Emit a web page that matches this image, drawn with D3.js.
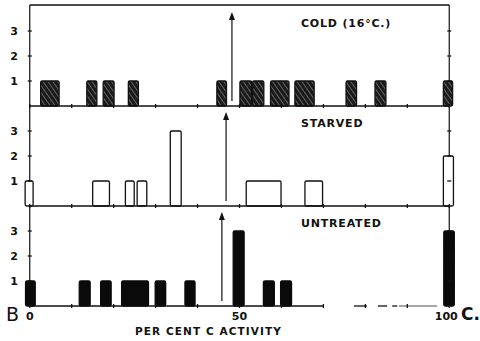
<!DOCTYPE html>
<html>
<head>
<meta charset="utf-8">
<script src="https://cdn.jsdelivr.net/npm/d3@7"></script>
<style>
  body { margin: 0; background: #fff; }
  svg { display: block; }
  text { font-family: "DejaVu Sans", sans-serif; fill: #111; }
</style>
</head>
<body>
<div id="chart"></div>
<script>
// per cent C activity, bars (start, end, number of cells)
var panels = ["COLD (16°C.)", "STARVED", "UNTREATED"];

var coldStart = [2.6, 13.6, 17.5, 23.5, 44.6, 50.1, 53.1, 57.4, 63.2, 75.4, 82.3, 98.6];
var coldEnd   = [7.0, 16.0, 20.1, 25.9, 46.9, 52.9, 55.8, 61.8, 67.8, 77.9, 84.9, 100.8];
var coldCount = [1, 1, 1, 1, 1, 1, 1, 1, 1, 1, 1, 1];

var starvedStart = [-1.1, 15.0, 22.8, 25.6, 33.5, 51.6, 65.6, 98.6];
var starvedEnd   = [0.8, 19.0, 24.9, 27.9, 36.1, 59.9, 69.8, 101.0];
var starvedCount = [1, 1, 1, 1, 3, 1, 1, 2];

var untreatedStart = [-1.0, 11.8, 16.9, 21.9, 29.9, 37.0, 48.5, 55.7, 59.8, 98.7];
var untreatedEnd   = [1.3, 14.4, 19.4, 28.3, 32.4, 39.4, 51.1, 58.3, 62.4, 101.2];
var untreatedCount = [1, 1, 1, 1, 1, 1, 3, 1, 1, 3];

// arrows (means) for each panel
var means = [48.2, 46.8, 45.8];

var yTicks = [1, 2, 3];
var xTicks = [0, 10, 20, 30, 40, 50, 60, 70, 80, 90, 100];
var xLabels = [0, 50, 100];

var width = 480, height = 341;

var svg = d3.select("#chart").append("svg")
    .attr("width", width)
    .attr("height", height);

// hatching for the cold bars
var defs = svg.append("defs");
var pat = defs.append("pattern")
    .attr("id", "hatch")
    .attr("patternUnits", "userSpaceOnUse")
    .attr("width", 4).attr("height", 4)
    .attr("patternTransform", "rotate(-35)");
pat.append("rect").attr("width", 4).attr("height", 4).attr("fill", "#1a1a1a");
pat.append("line").attr("x1", 0.5).attr("y1", 0).attr("x2", 0.5).attr("y2", 4)
    .attr("stroke", "#777").attr("stroke-width", 0.8);

var x = d3.scaleLinear().domain([0, 100]).range([29.75, 449.25]);

var baselines = [106, 206, 306];
var topY = 5;

function yScale(i) {
    return d3.scaleLinear().domain([0, 3]).range([baselines[i], baselines[i] - 75]);
}

var series = [
    { start: coldStart, end: coldEnd, n: coldCount, fill: "url(#hatch)", stroke: "#111" },
    { start: starvedStart, end: starvedEnd, n: starvedCount, fill: "#fff", stroke: "#111" },
    { start: untreatedStart, end: untreatedEnd, n: untreatedCount, fill: "#0a0a0a", stroke: "#0a0a0a" }
];

// frame: top line and the two sides
svg.append("line")
    .attr("x1", x(0)).attr("x2", x(100))
    .attr("y1", topY).attr("y2", topY)
    .attr("stroke", "#111").attr("stroke-width", 1.3);
[0, 100].forEach(function(v) {
    svg.append("line")
        .attr("x1", x(v)).attr("x2", x(v))
        .attr("y1", topY).attr("y2", baselines[2])
        .attr("stroke", "#111").attr("stroke-width", 1.2);
});

series.forEach(function(s, i) {
    var y = yScale(i);
    var g = svg.append("g");

    var bars = s.start.map(function(d, j) { return { x0: d, x1: s.end[j], n: s.n[j] }; });

    g.selectAll("rect.bar")
        .data(bars)
        .enter().append("rect")
        .attr("class", "bar")
        .attr("x", function(d) { return x(d.x0); })
        .attr("width", function(d) { return x(d.x1) - x(d.x0); })
        .attr("y", function(d) { return y(d.n); })
        .attr("height", function(d) { return y(0) - y(d.n); })
        .attr("rx", 1.5)
        .attr("fill", s.fill)
        .attr("stroke", s.stroke)
        .attr("stroke-width", 1.3);

    // baseline
    if (i < 2) {
        g.append("line")
            .attr("x1", x(0)).attr("x2", x(100))
            .attr("y1", y(0)).attr("y2", y(0))
            .attr("stroke", "#111").attr("stroke-width", 1.3);
    } else {
        // the bottom baseline is broken past 70 in the original
        [[0, 70], [77.3, 80.4], [83, 85.2], [86.4, 87.6], [88, 97.1]].forEach(function(p, k) {
            g.append("line")
                .attr("x1", x(p[0])).attr("x2", x(p[1]))
                .attr("y1", y(0)).attr("y2", y(0))
                .attr("stroke", k == 4 ? "#888" : "#111").attr("stroke-width", 1.3);
        });
    }

    // ticks along the baseline
    g.selectAll("line.xt")
        .data(xTicks)
        .enter().append("line")
        .attr("class", "xt")
        .attr("x1", function(d) { return x(d); })
        .attr("x2", function(d) { return x(d); })
        .attr("y1", y(0) - 2).attr("y2", y(0) + 2)
        .attr("stroke", "#111").attr("stroke-width", 1.3);

    // y ticks on both sides
    [0, 100].forEach(function(v) {
        g.selectAll(null)
            .data(yTicks)
            .enter().append("line")
            .attr("x1", x(v) - 2).attr("x2", x(v) + 2)
            .attr("y1", function(d) { return y(d); })
            .attr("y2", function(d) { return y(d); })
            .attr("stroke", "#111").attr("stroke-width", 1.3);
    });

    g.selectAll("text.yt")
        .data(yTicks)
        .enter().append("text")
        .attr("class", "yt")
        .attr("x", 18)
        .attr("y", function(d) { return y(d) + 4; })
        .attr("text-anchor", "end")
        .attr("font-size", 11)
        .attr("font-weight", "bold")
        .text(function(d) { return d; });

    // arrow: shaft and head
    var ax = x(means[i]), tip = y(0) - 94;
    g.append("line")
        .attr("x1", ax).attr("x2", ax)
        .attr("y1", y(0) - 5).attr("y2", tip + 4)
        .attr("stroke", "#111").attr("stroke-width", 1.2);
    g.append("path")
        .attr("d", "M" + ax + "," + tip + " L" + (ax + 3) + "," + (tip + 8) + " L" + (ax - 3) + "," + (tip + 8) + " Z")
        .attr("fill", "#111");

    // panel title
    g.append("text")
        .attr("x", 301)
        .attr("y", y(3) - 4)
        .attr("font-size", 11)
        .attr("font-weight", "bold")
        .attr("letter-spacing", 0.8)
        .text(panels[i]);
});

// x labels
svg.selectAll("text.xl")
    .data(xLabels)
    .enter().append("text")
    .attr("class", "xl")
    .attr("x", function(d) { return x(d) - (d == 100 ? 3 : 0); })
    .attr("y", 320)
    .attr("text-anchor", "middle")
    .attr("font-size", 11)
    .attr("font-weight", "bold")
    .text(function(d) { return d; });

svg.append("text")
    .attr("x", 135).attr("y", 335)
    .attr("font-size", 10.5)
    .attr("font-weight", "bold")
    .attr("letter-spacing", 1.1)
    .text("PER CENT C ACTIVITY");

svg.append("text")
    .attr("x", 6).attr("y", 321)
    .attr("font-size", 19)
    .text("B");

svg.append("text")
    .attr("x", 461).attr("y", 320)
    .attr("font-family", "Liberation Sans, sans-serif")
    .attr("font-size", 17)
    .attr("font-weight", "bold")
    .text("C.");
</script>
</body>
</html>
